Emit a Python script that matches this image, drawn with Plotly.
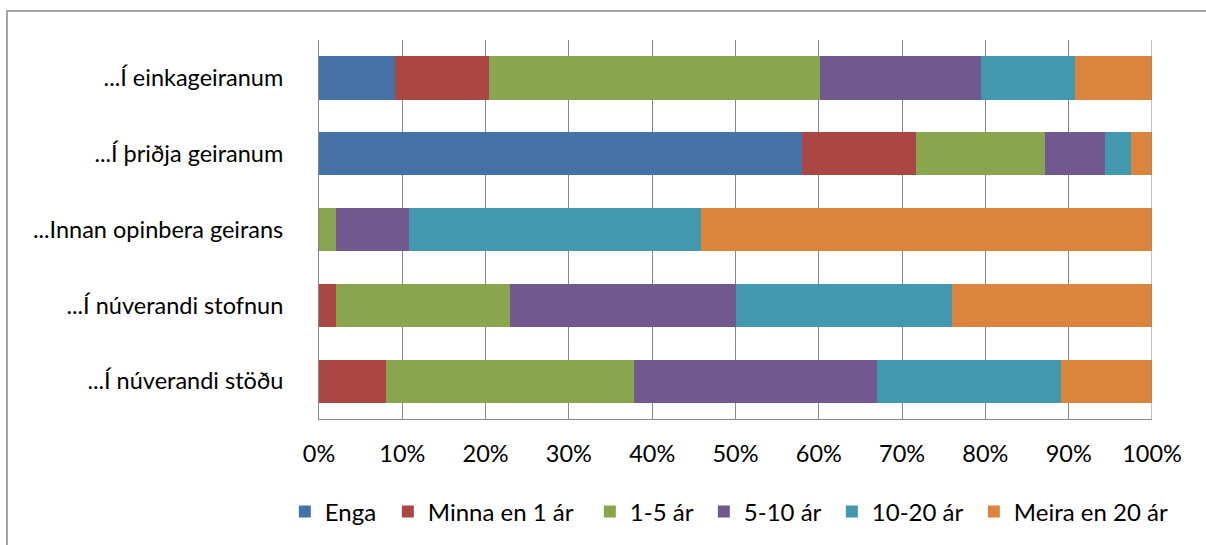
import plotly.graph_objects as go

# Categories, top to bottom
categories = [
    "...Í einkageiranum",
    "...Í þriðja geiranum",
    "...Innan opinbera geirans",
    "...Í núverandi stofnun",
    "...Í núverandi stöðu",
]

series_names = ["Enga", "Minna en 1 ár", "1-5 ár", "5-10 ár", "10-20 ár", "Meira en 20 ár"]

# Share (%) for each category, in the order of `categories`
enga = [9.1, 58.0, 0.0, 0.0, 0.0]
minna_en_1 = [11.3, 13.7, 0.0, 2.0, 8.0]
ar_1_5 = [39.7, 15.4, 2.0, 20.9, 29.8]
ar_5_10 = [19.4, 7.2, 8.8, 27.1, 29.2]
ar_10_20 = [11.3, 3.2, 35.0, 26.0, 22.1]
meira_en_20 = [9.2, 2.5, 54.2, 24.0, 10.9]

x_ticks = [0, 10, 20, 30, 40, 50, 60, 70, 80, 90, 100]
x_tick_labels = ["0%", "10%", "20%", "30%", "40%", "50%", "60%", "70%", "80%", "90%", "100%"]

colors = ["#4572A7", "#AA4643", "#89A54E", "#71588F", "#4198AF", "#DB843D"]

# legend entry widths (px) so the key spreads across the bottom
legend_widths = [58, 157, 69, 83, 97, None]

series_values = [enga, minna_en_1, ar_1_5, ar_5_10, ar_10_20, meira_en_20]

FONT = "Lato"
GRID = "#878787"

fig = go.Figure()
for name, vals, col, lw in zip(series_names, series_values, colors, legend_widths):
    fig.add_trace(go.Bar(
        name=name,
        y=categories,
        x=vals,
        orientation="h",
        marker=dict(color=col, line=dict(width=0)),
        hoverinfo="x+y+name",
        legendwidth=lw,
    ))

fig.update_layout(
    barmode="stack",
    bargap=0.43,
    width=1206,
    height=545,
    margin=dict(l=319, r=54, t=40, b=125),
    paper_bgcolor="white",
    plot_bgcolor="white",
    font=dict(family=FONT, size=23.5, color="#000000"),
    showlegend=True,
    legend=dict(
        orientation="h",
        x=-0.041,
        xanchor="left",
        y=-0.242,
        yanchor="middle",
        font=dict(family=FONT, size=24, color="#000000"),
        traceorder="normal",
        bgcolor="rgba(0,0,0,0)",
    ),
    xaxis=dict(
        range=[0, 100],
        tickvals=x_ticks,
        ticktext=x_tick_labels,
        showgrid=True,
        gridcolor=GRID,
        gridwidth=1,
        zeroline=False,
        showline=True,
        linecolor=GRID,
        linewidth=1,
        mirror=False,
        ticks="",
        ticklabelstandoff=14,
        tickfont=dict(family=FONT, size=23.5, color="#000000"),
        fixedrange=True,
    ),
    yaxis=dict(
        categoryorder="array",
        categoryarray=categories[::-1],
        showgrid=False,
        zeroline=False,
        showline=True,
        linecolor=GRID,
        linewidth=1,
        ticks="",
        ticklabelstandoff=30,
        tickfont=dict(family=FONT, size=23.5, color="#000000"),
        fixedrange=True,
    ),
    shapes=[
        # outer chart frame
        dict(
            type="rect",
            xref="paper", yref="paper",
            x0=(7 - 319) / 833, x1=(1215 - 319) / 833,
            y0=(420 - 560) / 380, y1=(420 - 11) / 380,
            line=dict(color=GRID, width=1.5),
            fillcolor="rgba(0,0,0,0)",
            layer="below",
        ),
        # right edge of the plot area
        dict(
            type="line",
            xref="x", yref="paper",
            x0=100, x1=100, y0=0, y1=1,
            line=dict(color=GRID, width=1),
        ),
    ],
)

fig.write_html("out.html")
